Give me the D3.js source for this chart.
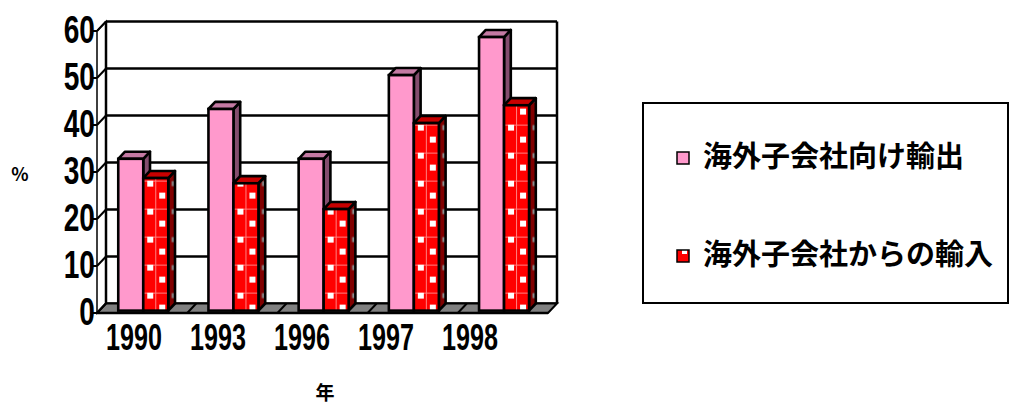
<!DOCTYPE html>
<html>
<head>
<meta charset="utf-8">
<script src="https://cdn.jsdelivr.net/npm/d3@7"></script>
<style>
  html, body { margin: 0; padding: 0; background: #fff; }
  svg { display: block; }
</style>
</head>
<body>
<svg id="chart" width="1011" height="403"></svg>
<script>
// ---- data ----
const years = ["1990", "1993", "1996", "1997", "1998"];
const seriesNames = ["海外子会社向け輸出", "海外子会社からの輸入"];
const exportsToSubs = [32.3, 42.9, 32.3, 50.1, 58.2];
const importsFromSubs = [28.2, 27.1, 21.6, 39.9, 43.7];
const yTicks = [0, 10, 20, 30, 40, 50, 60];
const yTitle = "%";
const xTitle = "年";

const svg = d3.select("#chart");
const defs = svg.append("defs");

// ---- projection: front plane + oblique depth ----
const depth = { dx: 9, dy: -9.5 };
const x = d3.scaleBand().domain(years).range([97, 548]);
const xSub = d3.scaleBand().domain(seriesNames).range([19, 69]);
const y = d3.scaleLinear().domain([0, 60]).range([313, 31]);
const xLabel = d3.scaleBand().domain(years).range([92, 512]);
const at = (px, py, t) => [px + depth.dx * t, py + depth.dy * t];
const poly = pts => "M" + pts.map(p => p.join(",")).join("L") + "Z";

const x0 = x.range()[0], x1 = x.range()[1];
const yMin = y(0), yMax = y(60);

// ---- patterns for the import series ----
const patFront = defs.append("pattern").attr("id", "confetti")
  .attr("patternUnits", "userSpaceOnUse").attr("width", 25).attr("height", 28);
patFront.append("rect").attr("width", 25).attr("height", 28).attr("fill", "#ff0000");
patFront.append("line").attr("x1", 0).attr("x2", 25).attr("y1", 10.5).attr("y2", 10.5)
  .attr("stroke", "#ff8080").attr("stroke-width", 1);
patFront.append("line").attr("x1", 12.5).attr("x2", 12.5).attr("y1", 0).attr("y2", 28)
  .attr("stroke", "#ff8080").attr("stroke-width", 1);
patFront.append("rect").attr("x", 4).attr("y", 10).attr("width", 6).attr("height", 6).attr("fill", "#fff");
patFront.append("rect").attr("x", 16).attr("y", 22).attr("width", 6).attr("height", 6).attr("fill", "#fff");

const patSide = defs.append("pattern").attr("id", "confettiSide")
  .attr("patternUnits", "userSpaceOnUse").attr("width", 60).attr("height", 28);
patSide.append("rect").attr("width", 60).attr("height", 28).attr("fill", "#800000");
patSide.append("rect").attr("x", 28.5).attr("y", 10.5).attr("width", 3.5).attr("height", 5).attr("fill", "#8c8c8c");

// ---- walls ----
const walls = svg.append("g");
// back wall
walls.append("path")
  .attr("d", poly([at(x0, yMax, 1), at(x1, yMax, 1), at(x1, yMin, 1), at(x0, yMin, 1)]))
  .attr("fill", "#fff");
// side wall
walls.append("path")
  .attr("d", poly([at(x0, yMax, 0), at(x0, yMax, 1), at(x0, yMin, 1), at(x0, yMin, 0)]))
  .attr("fill", "#fff").attr("stroke", "#000").attr("stroke-width", 1.5);

// gridlines on the back wall and side wall
yTicks.forEach(v => {
  const [bx0, by] = at(x0, y(v), 1);
  const [bx1] = at(x1, y(v), 1);
  walls.append("line").attr("x1", bx0).attr("x2", bx1).attr("y1", by).attr("y2", by)
    .attr("stroke", "#000").attr("stroke-width", 2.5);
  const f = at(x0, y(v), 0);
  walls.append("line").attr("x1", f[0]).attr("y1", f[1]).attr("x2", bx0).attr("y2", by)
    .attr("stroke", "#000").attr("stroke-width", 2);
  walls.append("line").attr("x1", f[0] - 4).attr("y1", f[1]).attr("x2", f[0]).attr("y2", f[1])
    .attr("stroke", "#000").attr("stroke-width", 2);
});
// back wall verticals
[x0, x1].forEach(px => {
  const a = at(px, yMax, 1), b = at(px, yMin, 1);
  walls.append("line").attr("x1", a[0]).attr("y1", a[1]).attr("x2", b[0]).attr("y2", b[1])
    .attr("stroke", "#000").attr("stroke-width", 2.5);
});

// floor
walls.append("path")
  .attr("d", poly([at(x0, yMin, 0), at(x1, yMin, 0), at(x1, yMin, 1), at(x0, yMin, 1)]))
  .attr("fill", "#808080").attr("stroke", "#000").attr("stroke-width", 2);
years.forEach(yr => {
  const px = x(yr);
  const a = at(px, yMin, 0), b = at(px, yMin, 1);
  walls.append("line").attr("x1", a[0]).attr("y1", a[1]).attr("x2", b[0]).attr("y2", b[1])
    .attr("stroke", "#000").attr("stroke-width", 2);
});

// ---- bars ----
const tFront = 0.25, tBack = 1.0;
const bw = xSub.bandwidth();
const bdx = depth.dx * (tBack - tFront), bdy = depth.dy * (tBack - tFront);
const styles = [
  { front: "#ff99cc", side: "#844d6e", top: "#c47aa3" },
  { front: "url(#confetti)", side: "url(#confettiSide)", top: "#c80000" }
];
const seriesValues = [exportsToSubs, importsFromSubs];

const bars = svg.append("g");
years.forEach((yr, i) => {
  seriesNames.forEach((s, k) => {
    const v = seriesValues[k][i];
    const [fx, fy] = at(x(yr) + xSub(s), y(0), tFront);
    const h = y(0) - y(v);
    const st = styles[k];
    const g = bars.append("g").attr("transform", `translate(${fx},${fy})`);
    const lw = 2.6;
    // side face
    g.append("path").attr("d", poly([[bw, 0], [bw, -h], [bw + bdx, -h + bdy], [bw + bdx, bdy]]))
      .attr("fill", st.side).attr("stroke", "#000").attr("stroke-width", lw).attr("stroke-linejoin", "round");
    // top face
    g.append("path").attr("d", poly([[0, -h], [bw, -h], [bw + bdx, -h + bdy], [bdx, -h + bdy]]))
      .attr("fill", st.top).attr("stroke", "#000").attr("stroke-width", lw).attr("stroke-linejoin", "round");
    // front face
    g.append("rect").attr("x", 0).attr("y", -h).attr("width", bw).attr("height", h)
      .attr("fill", st.front).attr("stroke", "#000").attr("stroke-width", lw);
  });
});

// front floor edge
svg.append("line").attr("x1", x0).attr("x2", x1).attr("y1", yMin).attr("y2", yMin)
  .attr("stroke", "#000").attr("stroke-width", 2.5);

// ---- axis labels (tall, narrow numerals) ----
const numFont = "'Liberation Sans', Arial, sans-serif";
const yAxisG = svg.append("g");
yTicks.forEach(v => {
  yAxisG.append("text")
    .attr("transform", `translate(95,${y(v) - 1}) scale(0.74,1)`)
    .attr("text-anchor", "end").attr("dominant-baseline", "central")
    .attr("font-family", numFont).attr("font-weight", "bold").attr("font-size", 38).attr("fill", "#000")
    .text(v);
});
const xAxisG = svg.append("g");
years.forEach(yr => {
  xAxisG.append("text")
    .attr("transform", `translate(${xLabel(yr) + xLabel.bandwidth() / 2},${yMin + 24}) scale(0.68,1)`)
    .attr("text-anchor", "middle").attr("dominant-baseline", "central")
    .attr("font-family", numFont).attr("font-weight", "bold").attr("font-size", 37).attr("fill", "#000")
    .text(yr);
});

const cjk = "'Noto Sans CJK JP', 'Noto Sans CJK SC', sans-serif";
svg.append("text").attr("x", 20).attr("y", 173)
  .attr("text-anchor", "middle").attr("dominant-baseline", "central")
  .attr("font-family", cjk).attr("font-weight", "bold").attr("font-size", 18)
  .text(yTitle);
svg.append("text").attr("x", 325).attr("y", 391)
  .attr("text-anchor", "middle").attr("dominant-baseline", "central")
  .attr("font-family", cjk).attr("font-weight", "bold").attr("font-size", 19)
  .text(xTitle);

// ---- legend ----
const legend = svg.append("g");
legend.append("rect").attr("x", 643).attr("y", 103).attr("width", 365).attr("height", 200)
  .attr("fill", "#fff").attr("stroke", "#000").attr("stroke-width", 2);
const legendY = d3.scalePoint().domain(seriesNames).range([158, 256]);
const swatchPat = defs.append("pattern").attr("id", "swatchRed")
  .attr("patternUnits", "userSpaceOnUse").attr("width", 13).attr("height", 13);
swatchPat.append("rect").attr("width", 13).attr("height", 13).attr("fill", "#ff0000");
swatchPat.append("rect").attr("x", 5).attr("y", 6).attr("width", 5).attr("height", 5).attr("fill", "#fff");
seriesNames.forEach((s, k) => {
  const cy = legendY(s);
  const g = legend.append("g").attr("transform", `translate(677,${cy})`);
  g.append("rect").attr("x", 0).attr("y", -6).attr("width", 12).attr("height", 12)
    .attr("fill", k === 0 ? "#ff99cc" : "url(#swatchRed)")
    .attr("stroke", "#000").attr("stroke-width", 1.5);
  legend.append("text").attr("x", 703).attr("y", cy - 4)
    .attr("dominant-baseline", "central")
    .attr("font-family", cjk).attr("font-weight", "bold").attr("font-size", 29)
    .text(s);
});
</script>
</body>
</html>
